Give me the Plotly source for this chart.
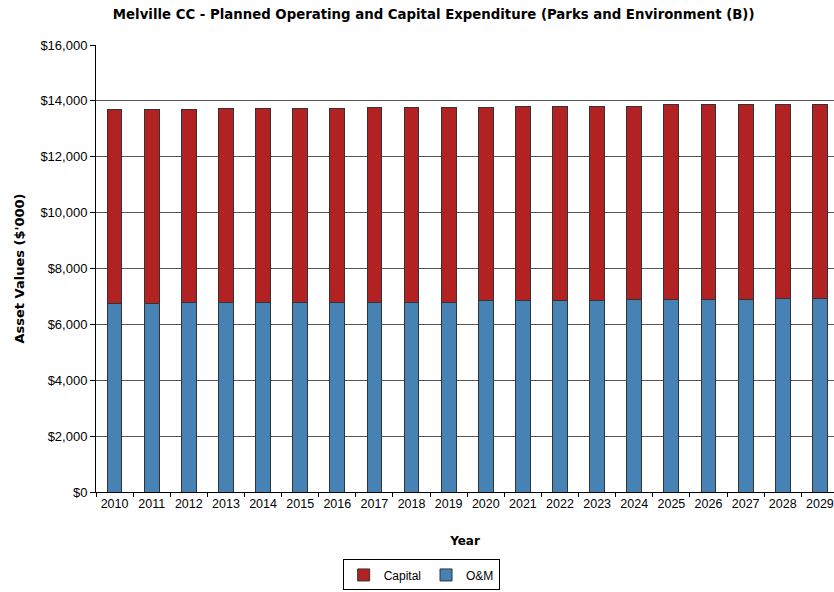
import plotly.graph_objects as go

years = [str(y) for y in range(2010, 2030)]
om = [6730, 6760, 6770, 6775, 6775, 6800, 6800, 6800, 6800, 6800,
      6850, 6850, 6850, 6850, 6900, 6900, 6900, 6900, 6930, 6930]
capital = [6960, 6930, 6920, 6945, 6945, 6920, 6920, 6970, 6970, 6970,
           6910, 6965, 6965, 6965, 6915, 6960, 6960, 6960, 6930, 6930]

font = "DejaVu Sans"
fig = go.Figure()
fig.add_trace(go.Bar(x=years, y=om, name="O&M", marker=dict(color="#4682B4", line=dict(color="#333333", width=1)), width=0.4))
fig.add_trace(go.Bar(x=years, y=capital, name="Capital", marker=dict(color="#B22222", line=dict(color="#333333", width=1)), width=0.4))

fig.update_layout(
    width=834, height=592,
    margin=dict(l=96, r=0, t=45, b=100),
    barmode="stack",
    plot_bgcolor="white", paper_bgcolor="white",
    font=dict(family=font, size=11, color="black"),
    title=dict(text="Melville CC - Planned Operating and Capital Expenditure (Parks and Environment (B))",
               x=0.52, xanchor="center", y=0.975, yanchor="middle",
               font=dict(family=font, size=13.3, color="black", weight="bold")),
    xaxis=dict(type="category", range=[-0.5, 19.38], showline=True, linecolor="black", linewidth=1,
               ticks="outside", ticklen=4, tickcolor="black", tickson="boundaries", tickangle=0,
               title=dict(text="Year", font=dict(size=12, weight="bold"), standoff=26),
               tickfont=dict(family="Liberation Sans", size=12.5)),
    yaxis=dict(range=[0, 16000], dtick=2000, tickprefix="$", tickformat=",",
               showline=True, linecolor="black", linewidth=1,
               ticks="outside", ticklen=5, tickcolor="black",
               showgrid=True, gridcolor="#555555", gridwidth=1, zeroline=False,
               title=dict(text="Asset Values ($'000)", font=dict(size=13, weight="bold"), standoff=12),
               tickfont=dict(family="Liberation Sans", size=13)),
    legend=dict(orientation="h", traceorder="reversed", xref="container", yref="container",
                x=0.505, xanchor="center", y=0.055, yanchor="top", itemwidth=30,
                bordercolor="black", borderwidth=1, font=dict(family="Liberation Sans", size=12)),
    bargap=0.6,
)
fig.write_html("out.html")
